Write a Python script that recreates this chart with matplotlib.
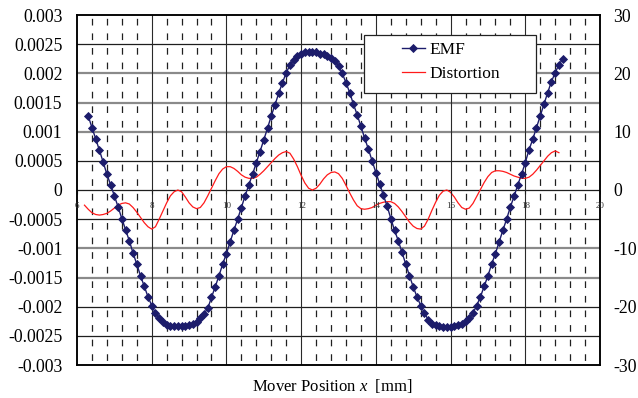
import numpy as np
import matplotlib
matplotlib.use("Agg")
import matplotlib.pyplot as plt
from matplotlib.lines import Line2D
from matplotlib.patches import Rectangle

plt.rcParams['font.family'] = ['Liberation Serif', 'DejaVu Serif']
plt.rcParams['mathtext.fontset'] = 'custom'
plt.rcParams['mathtext.rm'] = 'Liberation Serif'
plt.rcParams['mathtext.it'] = 'Liberation Serif:italic'
plt.rcParams['lines.scale_dashes'] = False

# ---------------- data ----------------
emf_x_start = 6.3
dist_x_start = 6.2
x_step = 0.1

emf = [
    0.00127, 0.00107, 0.00088, 0.00068, 0.00048, 0.00027, 0.00009, -0.00010,
    -0.00029, -0.00049, -0.00068, -0.00087, -0.00108, -0.00127, -0.00147, -0.00165,
    -0.00183, -0.00198, -0.00211, -0.00220, -0.00227, -0.00231, -0.00233, -0.00233,
    -0.00233, -0.00233, -0.00233, -0.00232, -0.00230, -0.00227, -0.00220, -0.00212,
    -0.00203, -0.00184, -0.00166, -0.00147, -0.00127, -0.00109, -0.00089, -0.00069,
    -0.00050, -0.00030, -0.00010, 0.00009, 0.00027, 0.00047, 0.00066, 0.00086,
    0.00106, 0.00127, 0.00146, 0.00166, 0.00184, 0.00201, 0.00214, 0.00223,
    0.00230, 0.00234, 0.00236, 0.00236, 0.00236, 0.00236, 0.00234, 0.00233,
    0.00230, 0.00226, 0.00221, 0.00213, 0.00200, 0.00184, 0.00167, 0.00147,
    0.00129, 0.00109, 0.00089, 0.00070, 0.00050, 0.00030, 0.00011, -0.00009,
    -0.00027, -0.00049, -0.00069, -0.00087, -0.00107, -0.00127, -0.00147, -0.00166,
    -0.00183, -0.00198, -0.00211, -0.00222, -0.00229, -0.00232, -0.00233, -0.00234,
    -0.00234, -0.00234, -0.00233, -0.00232, -0.00229, -0.00225, -0.00220, -0.00211,
    -0.00198, -0.00183, -0.00165, -0.00147, -0.00127, -0.00109, -0.00089, -0.00069,
    -0.00050, -0.00029, -0.00011, 0.00009, 0.00027, 0.00047, 0.00069, 0.00087,
    0.00107, 0.00127, 0.00147, 0.00167, 0.00186, 0.00201, 0.00215, 0.00224,
]

distortion = [
    -2.6, -3.3, -3.9, -4.2, -4.3, -4.2, -4.0, -3.6, -3.1, -2.6,
    -2.3, -2.2, -2.4, -3.0, -3.8, -4.7, -5.6, -6.3, -6.7, -6.3,
    -5.0, -3.6, -2.2, -1.0, -0.3, 0.0, -0.3, -1.2, -2.2, -2.9,
    -3.2, -3.0, -2.2, -1.0, 0.3, 1.6, 2.8, 3.6, 4.0, 4.0,
    3.7, 3.2, 2.6, 2.2, 2.0, 2.0, 2.2, 2.7, 3.3, 4.0,
    4.7, 5.4, 6.0, 6.4, 6.6, 6.3, 5.3, 4.0, 2.5, 1.2,
    0.3, 0.0, 0.3, 1.0, 1.9, 2.6, 3.0, 3.1, 2.8, 2.0,
    0.8, -0.5, -1.7, -2.7, -3.2, -3.3, -3.2, -3.0, -2.6, -2.3,
    -2.1, -2.0, -2.0, -2.3, -2.9, -3.7, -4.6, -5.5, -6.2, -6.6,
    -6.7, -6.2, -5.0, -3.5, -2.1, -0.9, -0.2, 0.0, -0.4, -1.2,
    -2.2, -3.0, -3.3, -3.1, -2.3, -1.1, 0.1, 1.3, 2.3, 3.0,
    3.3, 3.3, 3.2, 3.0, 2.7, 2.4, 2.2, 2.0, 2.0, 2.2,
    2.7, 3.4, 4.2, 5.0, 5.8, 6.4, 6.7, 6.4,
]

x_ticks = [6, 8, 10, 12, 14, 16, 18, 20]
x_tick_labels = ['6', '8', '10', '12', '14', '16', '18', '20']
x_minor = [6.4, 6.8, 7.2, 7.6, 8.4, 8.8, 9.2, 9.6, 10.4, 10.8, 11.2, 11.6,
           12.4, 12.8, 13.2, 13.6, 14.4, 14.8, 15.2, 15.6, 16.4, 16.8, 17.2, 17.6,
           18.4, 18.8, 19.2, 19.6]
left_ticks = [0.003, 0.0025, 0.002, 0.0015, 0.001, 0.0005, 0, -0.0005,
              -0.001, -0.0015, -0.002, -0.0025, -0.003]
left_labels = ['0.003', '0.0025', '0.002', '0.0015', '0.001', '0.0005', '0',
               '-0.0005', '-0.001', '-0.0015', '-0.002', '-0.0025', '-0.003']
right_ticks = [30, 20, 10, 0, -10, -20, -30]
right_labels = ['30', '20', '10', '0', '-10', '-20', '-30']
# horizontal grid levels that render as light/thick in the reference
gray_levels = [0.002, 0.0015, 0.001, -0.001, -0.0015]

emf_x = np.round(emf_x_start + x_step * np.arange(len(emf)), 1)
dist_x = np.round(dist_x_start + x_step * np.arange(len(distortion)), 1)

# ---------------- figure ----------------
W, H = 638, 398
fig = plt.figure(figsize=(W / 100, H / 100), dpi=100)
ax = fig.add_axes([77 / W, 33 / H, 523 / W, 350 / H])
ax2 = ax.twinx()

ax.set_xlim(6, 20)
ax.set_ylim(-0.003, 0.003)
ax2.set_ylim(-30, 30)

# put EMF axes on top
ax.set_zorder(2)
ax2.set_zorder(1)
ax.patch.set_visible(False)
ax2.patch.set_facecolor('white')

# grid (drawn in the lower axes)
for v in left_ticks:
    if v in (0.003, -0.003):
        continue
    if v in gray_levels:
        col, lw = '#8a8a8a', 1.6
    else:
        col, lw = '#1e1e1e', 0.9
    ax2.add_line(Line2D([0, 1], [v, v], transform=ax.get_yaxis_transform(),
                        color=col, lw=lw, zorder=1))
for xv in x_ticks[1:-1]:
    ax2.axvline(xv, color='#2a2a2a', lw=0.8, zorder=1)
for xv in x_minor:
    ax2.axvline(xv, color='#202020', lw=0.9, zorder=1,
                linestyle=(7.2, (4.8, 5.7)))

# data
ax2.plot(dist_x, distortion, color='#ff1a1a', lw=0.9, zorder=3)
ax.plot(emf_x, emf, color='#1c1c6b', lw=1.0, marker='D', markersize=3.6,
        markeredgewidth=0.6, markeredgecolor='#1c1c6b', zorder=4)

# ticks at zero line
ax.plot(x_ticks, [0] * len(x_ticks), linestyle='none', marker=3,
        markersize=3, color='#202020', markeredgewidth=0.8, zorder=2)
for xv, lab in zip(x_ticks, x_tick_labels):
    ax.annotate(lab, (xv, 0), xytext=(0, -11.5), textcoords='offset points',
                ha='center', va='center', fontsize=6.5, color='#333333',
                annotation_clip=False, zorder=3)

# axes styling
ax.set_xticks([])
ax.set_yticks(left_ticks, labels=left_labels)
ax.tick_params(axis='y', length=0, pad=10.5, labelsize=12.8)
ax2.set_yticks(right_ticks, labels=right_labels)
ax2.tick_params(axis='y', length=0, pad=9.5, labelsize=12.8)
for a in (ax, ax2):
    for s in a.spines.values():
        s.set_color('black')
        s.set_linewidth(1.1)

ax.set_xlabel(r'Mover Position $x$  [mm]', fontsize=12)
ax.xaxis.set_label_coords((332 - 77) / 523, -0.035)

# legend box + legend
ax.add_patch(Rectangle((364 / W, 1 - 93 / H), 172 / W, 58 / H,
                       transform=fig.transFigure, facecolor='white',
                       edgecolor='#222222', lw=0.9, zorder=5, clip_on=False))
handles = [
    Line2D([], [], color='#1c1c6b', lw=1.0, marker='D', markersize=3.6,
           markeredgewidth=0.6),
    Line2D([], [], color='#ff1a1a', lw=0.9),
]
leg = ax.legend(handles, ['EMF', 'Distortion'], loc='upper left',
                bbox_to_anchor=(402 / W, 1 - 42 / H),
                bbox_transform=fig.transFigure, frameon=False, borderpad=0,
                borderaxespad=0, handlelength=1.3, handletextpad=0.3,
                labelspacing=0.45, fontsize=12.5)
leg.set_zorder(6)

fig.savefig('out.png', dpi=100)
